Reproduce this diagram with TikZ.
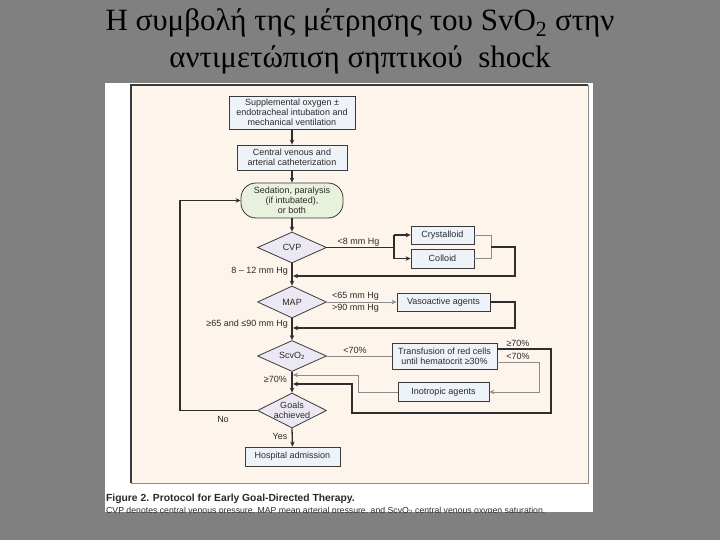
\documentclass[tikz,border=0pt]{standalone}
\usepackage{fontspec}
\setmainfont{Liberation Serif}
\newfontfamily\figfont{Liberation Sans}
\usetikzlibrary{shapes.geometric,arrows.meta,shadows}
\definecolor{bggray}{HTML}{808080}
\definecolor{cream}{HTML}{FDF5EC}
\definecolor{boxfill}{HTML}{EEF3FA}
\definecolor{sedfill}{HTML}{E8F1DC}
\definecolor{diafill}{HTML}{EBE8F3}
\definecolor{boxline}{HTML}{3A3A3A}
\definecolor{darkl}{HTML}{2E2E2E}
\definecolor{lightl}{HTML}{8C8C8C}
\definecolor{txt}{HTML}{2A2A2A}
\tikzset{
  fbox/.style={draw=boxline, fill=boxfill, line width=0.8pt, inner sep=0pt, align=center,
    font=\figfont\fontsize{9}{10}\selectfont, text=txt,
    drop shadow={shadow xshift=0.9pt, shadow yshift=-0.9pt, fill=black!45, opacity=0.6}},
  dia/.style={diamond, draw=boxline, fill=diafill, line width=0.8pt, inner sep=0pt},
  mainl/.style={draw=darkl, line width=1.3pt},
  thinl/.style={draw=lightl, line width=1pt},
  arr/.style={-{Stealth[length=5pt,width=4.5pt]}},
  lbl/.style={font=\figfont\fontsize{9}{10}\selectfont, text=txt, inner sep=0pt, align=center},
}
\begin{document}
\begin{tikzpicture}[x=1pt,y=-1pt]
\useasboundingbox (0,0) rectangle (720,540);
\fill[bggray] (0,0) rectangle (720,540);
% title
\node[anchor=base, font=\fontsize{31}{36}\selectfont, inner sep=0pt] (t1) at (360,31)
  {Η συμβολή της μέτρησης του SvO\textsubscript{2} στην};
\node[anchor=base, font=\fontsize{31}{36}\selectfont, inner sep=0pt] (t2) at (360,68)
  {αντιμετώπιση σηπτικού~ shock};
% panels
\fill[white] (105,83) rectangle (593,512);
\fill[cream] (131,85) rectangle (588,483);
\draw[boxline, line width=1.3pt] (131,483) -- (131,85) -- (588,85);
\draw[lightl, line width=1pt] (588,85) -- (588,483) -- (131,483);
% caption
\begin{scope}
\clip (105,83) rectangle (593,512);
\node[anchor=base west, inner sep=0pt, font=\figfont\bfseries\fontsize{10.3}{12}\selectfont, text=txt] (cap1) at (106,501.5)
  {Figure 2. Protocol for Early Goal-Directed Therapy.};
\node[anchor=base west, inner sep=0pt, font=\figfont\fontsize{8.7}{10}\selectfont, text=txt] (cap2) at (106,513.5)
  {CVP denotes central venous pressure, MAP mean arterial pressure, and ScvO\textsubscript{2} central venous oxygen saturation.};
\end{scope}
% nodes
\node[fbox, minimum width=126pt, minimum height=33pt] (supp) at (292,112.5)
  {Supplemental oxygen ±\\endotracheal intubation and\\mechanical ventilation};
\node[fbox, minimum width=110pt, minimum height=25pt] (cent) at (292,157.5)
  {Central venous and\\arterial catheterization};
\node[draw=boxline, fill=sedfill, line width=0.8pt, rounded corners=15pt, inner sep=0pt,
  minimum width=102pt, minimum height=35pt, align=center, font=\figfont\fontsize{9}{10}\selectfont, text=txt] (sed) at (292,200.5)
  {Sedation, paralysis\\(if intubated),\\or both};
\node[dia, minimum width=69pt, minimum height=31pt] (cvp) at (292,247.5) {};
\node[lbl] (cvpt) at (cvp) {CVP};
\node[dia, minimum width=69pt, minimum height=32pt] (map) at (292,302) {};
\node[lbl] (mapt) at (map) {MAP};
\node[dia, minimum width=69pt, minimum height=31pt] (svo) at (292,356) {};
\node[lbl] (svot) at (svo) {ScvO\textsubscript{2}};
\node[dia, minimum width=69pt, minimum height=35pt] (goals) at (292,410.5) {};
\node[lbl, font=\figfont\fontsize{9}{9.5}\selectfont] (goalst) at (goals) {Goals\\achieved};
\node[fbox, minimum width=95pt, minimum height=19pt] (hosp) at (292.5,456.5) {Hospital admission};
\node[fbox, minimum width=63pt, minimum height=18pt] (cry) at (442.5,235) {Crystalloid};
\node[fbox, minimum width=63pt, minimum height=19pt] (col) at (442.5,258.5) {Colloid};
\node[fbox, minimum width=93pt, minimum height=18pt] (vas) at (443.5,302) {Vasoactive agents};
\node[fbox, minimum width=105pt, minimum height=26pt] (tra) at (444.5,356)
  {Transfusion of red cells\\until hematocrit ≥30\%};
\node[fbox, minimum width=91pt, minimum height=19pt] (ino) at (443.5,392) {Inotropic agents};
% coordinates
\coordinate (cvpR) at (394,247.5);
\coordinate (crR) at (491,247);
\coordinate (lp1) at (515,276);
\coordinate (j1) at (293,276);
\coordinate (lp2) at (515,328);
\coordinate (j2) at (293,328);
\coordinate (tr1) at (551,349);
\coordinate (tr2) at (551,413);
\coordinate (tr3) at (352,413);
\coordinate (tr4) at (352,384);
\coordinate (j4) at (293,384);
\coordinate (tl1) at (539,362);
\coordinate (tl2) at (539,392);
\coordinate (ir1) at (358,392);
\coordinate (ir2) at (358,375);
\coordinate (j3) at (293,375);
\coordinate (n1) at (180,410.5);
\coordinate (n2) at (180,200.5);
% main vertical
\draw[mainl,arr] (supp.south) -- (cent.north);
\draw[mainl,arr] (cent.south) -- (sed.north);
\draw[mainl,arr] (sed.south) -- (cvp.north);
\draw[mainl,arr] (cvp.south) -- (map.north);
\draw[mainl,arr] (map.south) -- (svo.north);
\draw[mainl,arr] (svo.south) -- (goals.north);
\draw[mainl,arr] (goals.south) -- (hosp.north);
% CVP branch
\draw[mainl] (cvp.east) -- (cvpR);
\draw[mainl] (cvpR |- cry.west) -- (cvpR |- col.west);
\draw[mainl,arr] (cvpR |- cry.west) -- (cry.west);
\draw[mainl,arr] (cvpR |- col.west) -- (col.west);
\draw[thinl] (cry.east) -- (crR |- cry.east) -- (crR |- col.east) -- (col.east);
\draw[mainl,arr] (crR) -- (lp1 |- crR) -- (lp1) -- (j1);
% MAP branch
\draw[thinl,arr] (map.east) -- (vas.west);
\draw[mainl,arr] (vas.east) -- (lp2 |- vas.east) -- (lp2) -- (j2);
% ScvO2 branch
\draw[thinl] (svo.east) -- (tra.west);
\draw[mainl,arr] (tra.east |- tr1) -- (tr1) -- (tr2) -- (tr3) -- (tr4) -- (j4);
\draw[thinl,arr] (tra.east |- tl1) -- (tl1) -- (tl2) -- (ino.east);
\draw[thinl,arr] (ino.west) -- (ir1) -- (ir2) -- (j3);
% goals not achieved
\draw[mainl,arr] (goals.west) -- (n1) -- (n2) -- (sed.west);
% labels
\node[lbl] (l1) at (358.5,242) {<8 mm Hg};
\node[lbl, anchor=east] (l2) at (288,271) {8 – 12 mm Hg};
\node[lbl, anchor=west] (l3) at (332,296) {<65 mm Hg};
\node[lbl, anchor=west] (l4) at (332,308) {>90 mm Hg};
\node[lbl, anchor=east] (l5) at (288,324) {≥65 and ≤90 mm Hg};
\node[lbl] (l6) at (355,350) {<70\%};
\node[lbl, anchor=east] (l7) at (287,379.5) {≥70\%};
\node[lbl] (l8) at (518,343) {≥70\%};
\node[lbl] (l9) at (518,356.5) {<70\%};
\node[lbl] (l10) at (223,419) {No};
\node[lbl] (l11) at (280,436) {Yes};
\end{tikzpicture}
\end{document}
